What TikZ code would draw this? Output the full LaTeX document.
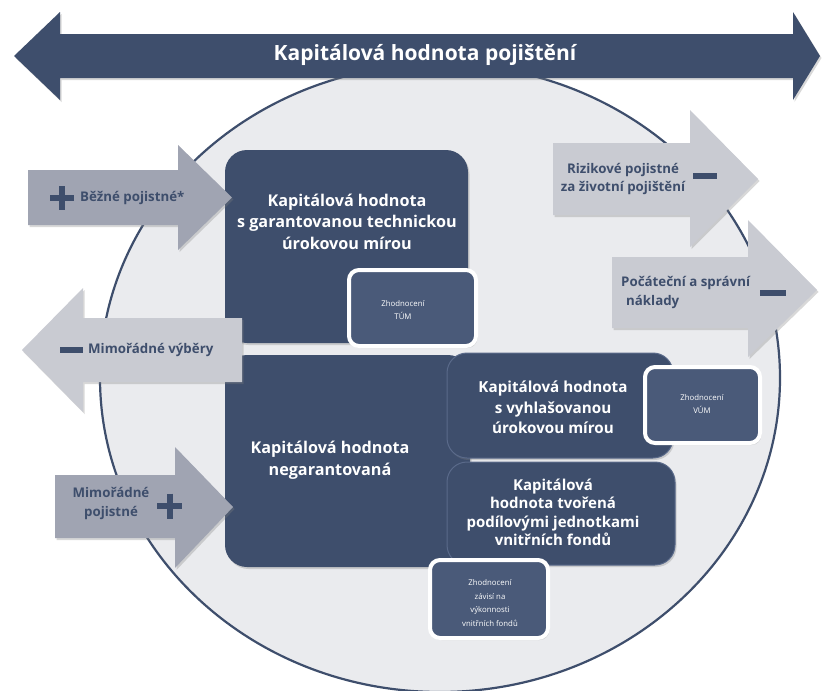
\documentclass[tikz,border=0pt]{standalone}
\usepackage{fontspec}
\setmainfont{Open Sans}
\usetikzlibrary{shadows}
\definecolor{navy}{HTML}{3E4E6C}
\definecolor{navyl}{HTML}{4A5A79}
\definecolor{navyedge}{HTML}{5A6A8A}
\definecolor{circ}{HTML}{EAEBEE}
\definecolor{arrdark}{HTML}{A0A4B2}
\definecolor{arrlight}{HTML}{C9CBD2}
\begin{document}
\begin{tikzpicture}[x=1pt,y=-1pt,
  shad/.style={drop shadow={opacity=0.3,shadow xshift=1.5pt,shadow yshift=-2pt}},
  bigbox/.style={fill=navy, rounded corners=22pt, inner sep=0pt, shad},
  midbox/.style={fill=navy, draw=navyedge, line width=1pt, rounded corners=20pt, inner sep=0pt, shad},
  smallbox/.style={fill=navyl, draw=white, line width=4pt, rounded corners=10pt, inner sep=0pt, shad},
  boxtext/.style={text=white, align=center, font=\bfseries\fontsize{16.2}{21.5}\selectfont},
  midtext/.style={text=white, align=center, font=\bfseries\fontsize{15.2}{20.5}\selectfont},
  smalltext/.style={text=white, align=center, font=\fontsize{7.8}{13.8}\selectfont},
  arrtext/.style={text=navy, font=\bfseries\fontsize{13.3}{18.5}\selectfont, inner sep=0pt},
  darrow/.style={fill=arrdark, shad},
  larrow/.style={fill=arrlight, shad},
  sign/.style={draw=navy, line width=6pt}
]
\useasboundingbox (0,0) rectangle (825,691);
\fill[white] (0,0) rectangle (825,691);

% big circle
\draw[navy, line width=2.2pt, fill=circ] (440,378) ellipse [x radius=340, y radius=314];

% banner double arrow
\path[fill=navy, shad] (14,56) -- (60,12) -- (60,34) -- (793,34) -- (793,12) -- (820,56)
  -- (793,100) -- (793,78) -- (60,78) -- (60,100) -- cycle;
\node[text=white, font=\bfseries\fontsize{21}{24}\selectfont] (title) at (425,55) {Kapitálová hodnota pojištění};

% big boxes
\node[bigbox, minimum width=243pt, minimum height=193pt] (A) at (346.5,246.5) {};
\node[boxtext] (At) at (347,221.5) {Kapitálová hodnota\\s garantovanou technickou\\úrokovou mírou};

\node[bigbox, minimum width=245pt, minimum height=212pt] (B) at (347.5,461) {};
\node[boxtext] (Bt) at (330,460) {Kapitálová hodnota\\negarantovaná};

\node[midbox, minimum width=226pt, minimum height=105pt] (C) at (560,405.5) {};
\node[midtext] (Ct) at (553,407.5) {Kapitálová hodnota\\s vyhlašovanou\\úrokovou mírou};

\node[midbox, minimum width=228pt, minimum height=103pt] (D) at (561,513.5) {};
\node[midtext, font=\bfseries\fontsize{15}{18.5}\selectfont] (Dt) at (553,512.5) {Kapitálová\\hodnota tvořená\\podílovými jednotkami\\vnitřních fondů};

% small boxes
\node[smallbox, minimum width=127pt, minimum height=76pt] (E) at (412.5,308) {};
\node[smalltext] (Et) at (403,310) {Zhodnocení\\TÚM};

\node[smallbox, minimum width=115pt, minimum height=76pt] (F) at (702.5,405) {};
\node[smalltext] (Ft) at (702,404) {Zhodnocení\\VÚM};

\node[smallbox, minimum width=118pt, minimum height=78pt] (G) at (489,599) {};
\node[smalltext] (Gt) at (490,603) {Zhodnocení\\závisí na\\výkonnosti\\vnitřních fondů};

% left arrows
\path[darrow] (28,170) -- (178,170) -- (178,145) -- (232,197.5) -- (178,250) -- (178,225) -- (28,225) -- cycle;
\draw[sign] (50,198) -- (74,198) (62,186) -- (62,210);
\node[arrtext, anchor=west] (bp) at (80,198) {Běžné pojistné*};

\path[larrow] (22,350) -- (83,288) -- (83,318) -- (242,318) -- (242,382) -- (83,382) -- (83,412) -- cycle;
\draw[sign] (60,350) -- (83,350);
\node[arrtext, anchor=west] (mv) at (88,350) {Mimořádné výběry};

\path[darrow] (55,475) -- (175,475) -- (175,447) -- (233,507) -- (175,568) -- (175,538) -- (55,538) -- cycle;
\draw[sign] (157,506) -- (182,506) (169.5,493.5) -- (169.5,518.5);
\node[arrtext, align=center] (mp) at (111,503.5) {Mimořádné\\pojistné};

% right arrows
\path[larrow] (553,143) -- (690,143) -- (690,110) -- (758,179) -- (690,247) -- (690,215) -- (553,215) -- cycle;
\draw[sign, line width=5.5pt] (693,176) -- (717,176);
\node[arrtext, align=center] (rp) at (623,179) {Rizikové pojistné\\za životní pojištění};

\path[larrow] (612,257) -- (748,257) -- (748,220) -- (817,290) -- (748,357) -- (748,328) -- (612,328) -- cycle;
\draw[sign, line width=5.5pt] (760,293) -- (786,293);
\node[arrtext, align=left, anchor=west] (pn) at (621,292.5) {Počáteční a správní\\\hspace*{5pt}náklady};
\end{tikzpicture}
\end{document}
